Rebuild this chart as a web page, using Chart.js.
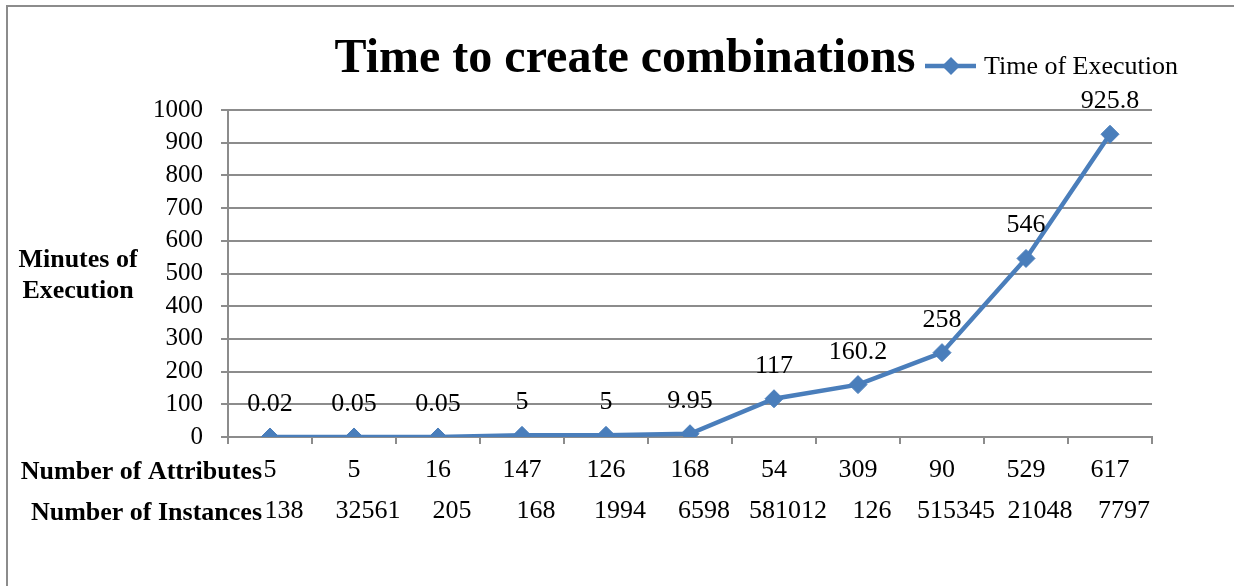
<!DOCTYPE html>
<html>
<head>
<meta charset="utf-8">
<script src="https://cdn.jsdelivr.net/npm/chart.js@4.4.0/dist/chart.umd.min.js"></script>
<style>
  html, body { margin: 0; padding: 0; background: #fff; }
  canvas { display: block; }
</style>
</head>
<body>
<canvas id="c" width="1234" height="586"></canvas>
<script>
// Datasets: attribute count, instance count and run time (minutes) per dataset
const attributes = [5, 5, 16, 147, 126, 168, 54, 309, 90, 529, 617];
const instances = [138, 32561, 205, 168, 1994, 6598, 581012, 126, 515345, 21048, 7797];
const minutes = [0.02, 0.05, 0.05, 5, 5, 9.95, 117, 160.2, 258, 546, 925.8];

const yMin = 0, yMax = 1000, yStep = 100;

const chartTitle = 'Time to create combinations';
const seriesName = 'Time of Execution';
const yTitleLines = ['Minutes of', 'Execution'];
const rowHeaders = ['Number of Attributes', 'Number of Instances'];

const SERIF = '"Liberation Serif", "Times New Roman", serif';
const BLUE = '#4A7EBB';
const GRID = '#8c8c8c';

// Frame, title, legend, axis title, row headers and value labels
const decor = {
  id: 'decor',
  beforeDraw(chart) {
    const ctx = chart.ctx;
    ctx.save();
    ctx.strokeStyle = GRID;
    ctx.lineWidth = 2;
    ctx.beginPath();
    ctx.moveTo(7, chart.height);
    ctx.lineTo(7, 6);
    ctx.lineTo(chart.width, 6);
    ctx.stroke();
    ctx.restore();
  },
  afterDatasetsDraw(chart) {
    const ctx = chart.ctx;
    const meta = chart.getDatasetMeta(0);
    ctx.save();
    ctx.font = '26px ' + SERIF;
    ctx.fillStyle = '#000';
    ctx.textAlign = 'center';
    ctx.textBaseline = 'alphabetic';
    meta.data.forEach((pt, i) => {
      ctx.fillText(String(minutes[i]), pt.x, pt.y - 26);
    });
    ctx.restore();
  },
  afterDraw(chart) {
    const ctx = chart.ctx;
    ctx.save();
    ctx.fillStyle = '#000';

    // Title
    ctx.font = 'bold 48px ' + SERIF;
    ctx.textAlign = 'center';
    ctx.textBaseline = 'alphabetic';
    ctx.fillText(chartTitle, 625, 72);

    // Legend entry
    ctx.strokeStyle = BLUE;
    ctx.lineWidth = 4.5;
    ctx.beginPath();
    ctx.moveTo(925, 66);
    ctx.lineTo(976, 66);
    ctx.stroke();
    ctx.fillStyle = BLUE;
    ctx.beginPath();
    ctx.moveTo(951, 57); ctx.lineTo(960, 66); ctx.lineTo(951, 75); ctx.lineTo(942, 66);
    ctx.closePath();
    ctx.fill();
    ctx.fillStyle = '#000';
    ctx.font = '26px ' + SERIF;
    ctx.textAlign = 'left';
    ctx.fillText(seriesName, 984, 74);

    // Value axis title (horizontal, two lines)
    ctx.font = 'bold 26px ' + SERIF;
    ctx.textAlign = 'center';
    ctx.fillText(yTitleLines[0], 78, 267);
    ctx.fillText(yTitleLines[1], 78, 298);

    // Row headers for the two category rows
    ctx.textAlign = 'right';
    ctx.fillText(rowHeaders[0], 262, 479);
    ctx.fillText(rowHeaders[1], 262, 520);
    ctx.restore();
  }
};

new Chart(document.getElementById('c'), {
  type: 'line',
  data: {
    labels: attributes.map(String),
    datasets: [{
      label: seriesName,
      data: minutes,
      xAxisID: 'x',
      yAxisID: 'y',
      borderColor: BLUE,
      backgroundColor: BLUE,
      borderWidth: 4.5,
      tension: 0,
      pointStyle: 'rectRot',
      pointRadius: 9,
      pointHoverRadius: 9,
      pointBorderWidth: 1,
      pointBackgroundColor: BLUE,
      pointBorderColor: BLUE
    }]
  },
  options: {
    responsive: false,
    animation: false,
    devicePixelRatio: 1,
    layout: { padding: { left: 0, top: 110, right: 82, bottom: 51 } },
    plugins: {
      legend: { display: false },
      title: { display: false },
      tooltip: { enabled: false }
    },
    scales: {
      y: {
        type: 'linear',
        position: 'left',
        min: yMin,
        max: yMax,
        ticks: {
          stepSize: yStep,
          autoSkip: false,
          color: '#000',
          font: { family: SERIF, size: 25 },
          padding: 18,
          callback: (v) => String(v)
        },
        grid: { color: GRID, lineWidth: 2, tickLength: 7, drawTicks: true },
        border: { display: true, color: GRID, width: 2 },
        afterFit(scale) { scale.width = 228; }
      },
      x: {
        type: 'category',
        position: 'bottom',
        offset: true,
        ticks: {
          autoSkip: false,
          maxRotation: 0,
          color: '#000',
          font: { family: SERIF, size: 26 },
          padding: 11
        },
        grid: { offset: true, drawOnChartArea: false, drawTicks: true, tickLength: 7, color: GRID, lineWidth: 2 },
        border: { display: true, color: GRID, width: 2 },
        afterFit(scale) { scale.height = 48; }
      },
      x2: {
        type: 'category',
        position: 'bottom',
        labels: instances.map(String),
        offset: true,
        ticks: {
          autoSkip: false,
          maxRotation: 0,
          color: '#000',
          font: { family: SERIF, size: 26 },
          padding: 11,
          labelOffset: 14
        },
        grid: { display: false, drawTicks: false },
        border: { display: false },
        afterFit(scale) { scale.height = 50; }
      }
    }
  },
  plugins: [decor]
});
</script>
</body>
</html>
